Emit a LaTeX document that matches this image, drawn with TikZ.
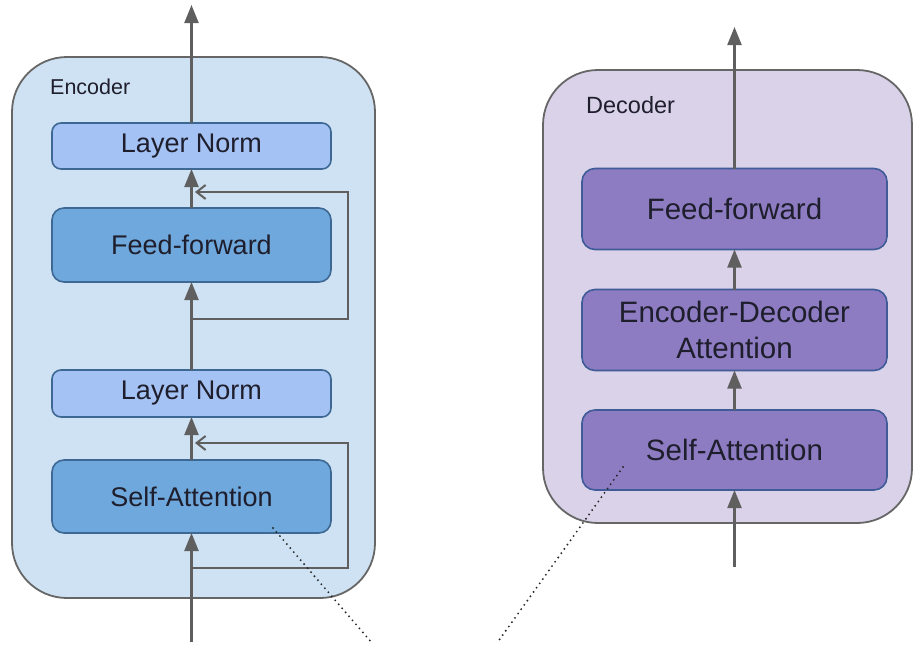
\documentclass[tikz,border=0pt]{standalone}
\usepackage{fontspec}
\setmainfont{Liberation Sans}
\usetikzlibrary{arrows.meta}

\definecolor{encouter}{HTML}{CFE2F3}
\definecolor{normfill}{HTML}{A4C2F4}
\definecolor{blockfill}{HTML}{6FA8DC}
\definecolor{blockline}{HTML}{3D6894}
\definecolor{decouter}{HTML}{D9D2E9}
\definecolor{decfill}{HTML}{8E7CC3}
\definecolor{decline}{HTML}{3F5C98}
\definecolor{frameline}{HTML}{666666}
\definecolor{flowline}{HTML}{5F5F5F}
\definecolor{ink}{HTML}{1E1E2C}

\tikzset{
  outerbox/.style={draw=frameline, line width=1.8pt, rounded corners=55pt,
    inner sep=0pt, outer sep=0pt},
  blockbase/.style={line width=1.6pt, inner sep=0pt, outer sep=0pt,
    text=ink, align=center},
  normbox/.style={blockbase, draw=blockline, fill=normfill, rounded corners=9pt,
    minimum width=279pt, font=\fontsize{27}{32}\selectfont},
  encbox/.style={blockbase, draw=blockline, fill=blockfill, rounded corners=12pt,
    minimum width=279pt, font=\fontsize{27}{32}\selectfont},
  decbox/.style={blockbase, draw=decline, fill=decfill, rounded corners=13pt,
    minimum width=305pt, minimum height=81pt,
    font=\fontsize{29.5}{36}\selectfont},
  caption/.style={anchor=base west, inner sep=0pt, text=ink},
  flow/.style={draw=flowline, line width=2.2pt,
    -{Triangle[length=18pt,width=14pt]}},
  residual/.style={draw=flowline, line width=2.2pt, line join=miter,
    -{Straight Barb[length=9pt,width=14pt,line width=2pt]}},
  link/.style={draw=black!85, line width=2.1pt, line cap=round,
    dash pattern=on 0pt off 5.3pt},
}

\begin{document}
\begin{tikzpicture}[x=1pt,y=-1pt]
\useasboundingbox (0,0) rectangle (916,645);

% encoder stack
\node[outerbox, fill=encouter, minimum width=363pt, minimum height=541pt]
  (enc) at (193.5,327.5) {};
\node[caption, font=\fontsize{21.5}{26}\selectfont] (enclabel) at (50,94) {Encoder};

\node[normbox, minimum height=46pt] (ln2) at (191.5,146) {Layer Norm};
\node[encbox, minimum height=74pt] (ff) at (191.5,245) {Feed-forward};
\node[normbox, minimum height=47pt] (ln1) at (191.5,393.5) {Layer Norm};
\node[encbox, minimum height=73pt] (sa) at (191.5,496.5) {Self-Attention};

% decoder stack
\node[outerbox, fill=decouter, minimum width=369pt, minimum height=453pt]
  (dec) at (727.5,296.5) {};
\node[caption, font=\fontsize{23.5}{28}\selectfont] (declabel) at (586,113) {Decoder};

\node[decbox] (dff) at (734.5,209) {Feed-forward};
\node[decbox] (ded) at (734.5,330) {Encoder-Decoder\\Attention};
\node[decbox, minimum height=80pt] (dsa) at (734.5,450) {Self-Attention};

% free ends of the data path
\coordinate (encin)  at (191.5,642);
\coordinate (encout) at (191.5,5);
\coordinate (decin)  at (734.5,567);
\coordinate (decout) at (734.5,27);

% residual path corners
\coordinate (r1a) at (191.5,568);
\coordinate (r1b) at (348,568);
\coordinate (r1c) at (348,443);
\coordinate (r1t) at (195,443);
\coordinate (r2a) at (191.5,319);
\coordinate (r2b) at (348,319);
\coordinate (r2c) at (348,192);
\coordinate (r2t) at (195,192);

% encoder data flow
\draw[flow] (encin) -- (sa.south);
\draw[flow] (sa.north) -- (ln1.south);
\draw[flow] (ln1.north) -- (ff.south);
\draw[flow] (ff.north) -- (ln2.south);
\draw[flow] (ln2.north) -- (encout);
\draw[residual] (r1a) -- (r1b) -- (r1c) -- (r1t);
\draw[residual] (r2a) -- (r2b) -- (r2c) -- (r2t);

% decoder data flow
\draw[flow] (decin) -- (dsa.south);
\draw[flow] (dsa.north) -- (ded.south);
\draw[flow] (ded.north) -- (dff.south);
\draw[flow] (dff.north) -- (decout);

% dotted guides from the two self-attention blocks
\coordinate (la) at (273,528);
\coordinate (lb) at (372,643);
\coordinate (ra) at (623,467);
\coordinate (rb) at (497,643);
\draw[link] (la) -- (lb);
\draw[link] (ra) -- (rb);
\end{tikzpicture}
\end{document}
